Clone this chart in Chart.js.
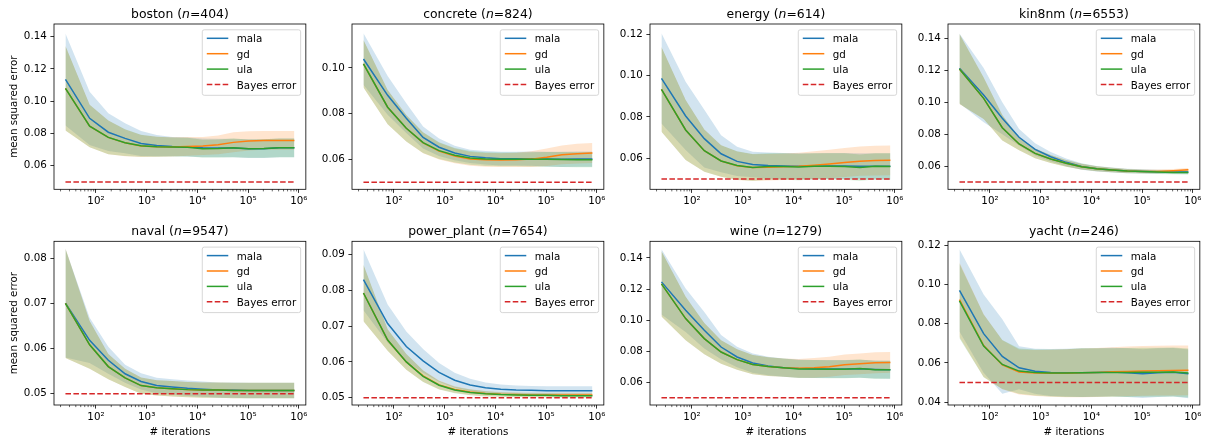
<!DOCTYPE html>
<html>
<head>
<meta charset="utf-8">
<script src="https://cdn.jsdelivr.net/npm/chart.js@4.4.1/dist/chart.umd.min.js"></script>
<style>
  body { margin: 0; background: #fff; }
  #fig { position: relative; width: 1208px; height: 444px; }
  #fig canvas { position: absolute; }
</style>
</head>
<body>
<div id="fig"></div>
<script>
// iterations at which the test error was logged
var iterations = [25, 75, 175, 375, 775, 1575, 3175, 6375, 12775, 25575, 51175, 102375, 204775, 409575, 819175];
var bayesError = 0.05;
var methods = ["mala", "gd", "ula"];
var xTickValues = [1e2, 1e3, 1e4, 1e5, 1e6];
var xTickLabels = ["10²", "10³", "10⁴", "10⁵", "10⁶"];

var datasetNames = ["boston", "concrete", "energy", "kin8nm", "naval", "power_plant", "wine", "yacht"];
var datasetSizes = [404, 824, 614, 6553, 9547, 7654, 1279, 246];

// boston
var bostonMala = [0.1135, 0.0894, 0.0808, 0.0770, 0.0738, 0.0725, 0.0719, 0.0716, 0.0711, 0.0710, 0.0710, 0.0706, 0.0706, 0.0711, 0.0711];
var bostonMalaStd = [0.0285, 0.0165, 0.0117, 0.0093, 0.0077, 0.0066, 0.0060, 0.0059, 0.0058, 0.0058, 0.0058, 0.0058, 0.0058, 0.0058, 0.0058];
var bostonGd = [0.1080, 0.0846, 0.0776, 0.0742, 0.0723, 0.0718, 0.0717, 0.0720, 0.0722, 0.0730, 0.0745, 0.0754, 0.0757, 0.0757, 0.0757];
var bostonGdStd = [0.0262, 0.0132, 0.0104, 0.0083, 0.0068, 0.0062, 0.0059, 0.0058, 0.0056, 0.0058, 0.0062, 0.0060, 0.0058, 0.0058, 0.0058];
var bostonUla = [0.1080, 0.0846, 0.0776, 0.0743, 0.0724, 0.0718, 0.0716, 0.0715, 0.0706, 0.0707, 0.0711, 0.0706, 0.0707, 0.0711, 0.0711];
var bostonUlaStd = [0.0262, 0.0132, 0.0104, 0.0083, 0.0068, 0.0062, 0.0059, 0.0058, 0.0055, 0.0056, 0.0058, 0.0057, 0.0057, 0.0058, 0.0058];
var bostonTicks = [0.06, 0.08, 0.10, 0.12, 0.14];
var bostonRange = [0.0454, 0.1479];

// concrete
var concreteMala = [0.1039, 0.0880, 0.0780, 0.0696, 0.0653, 0.0628, 0.0613, 0.0607, 0.0603, 0.0603, 0.0603, 0.0601, 0.0600, 0.0601, 0.0601];
var concreteMalaStd = [0.0113, 0.0085, 0.0065, 0.0048, 0.0038, 0.0032, 0.0029, 0.0029, 0.0030, 0.0030, 0.0031, 0.0032, 0.0033, 0.0033, 0.0033];
var concreteGd = [0.1018, 0.0828, 0.0736, 0.0672, 0.0636, 0.0615, 0.0602, 0.0598, 0.0597, 0.0598, 0.0601, 0.0609, 0.0620, 0.0625, 0.0628];
var concreteGdStd = [0.0104, 0.0075, 0.0058, 0.0045, 0.0037, 0.0032, 0.0030, 0.0030, 0.0030, 0.0031, 0.0034, 0.0038, 0.0041, 0.0043, 0.0044];
var concreteUla = [0.1018, 0.0828, 0.0736, 0.0673, 0.0638, 0.0618, 0.0606, 0.0601, 0.0600, 0.0600, 0.0600, 0.0600, 0.0599, 0.0598, 0.0598];
var concreteUlaStd = [0.0104, 0.0075, 0.0058, 0.0045, 0.0037, 0.0032, 0.0030, 0.0030, 0.0030, 0.0030, 0.0031, 0.0032, 0.0033, 0.0033, 0.0033];
var concreteTicks = [0.06, 0.08, 0.10];
var concreteRange = [0.0469, 0.1192];

// energy
var energyMala = [0.0987, 0.0805, 0.0695, 0.0622, 0.0585, 0.0570, 0.0565, 0.0563, 0.0562, 0.0562, 0.0563, 0.0563, 0.0562, 0.0561, 0.0561];
var energyMalaStd = [0.0218, 0.0165, 0.0140, 0.0090, 0.0071, 0.0062, 0.0063, 0.0063, 0.0063, 0.0063, 0.0063, 0.0063, 0.0063, 0.0063, 0.0063];
var energyGd = [0.0934, 0.0737, 0.0637, 0.0587, 0.0564, 0.0555, 0.0557, 0.0559, 0.0562, 0.0567, 0.0573, 0.0580, 0.0586, 0.0589, 0.0590];
var energyGdStd = [0.0205, 0.0145, 0.0102, 0.0076, 0.0069, 0.0065, 0.0064, 0.0064, 0.0065, 0.0067, 0.0069, 0.0070, 0.0071, 0.0072, 0.0072];
var energyUla = [0.0934, 0.0737, 0.0637, 0.0587, 0.0565, 0.0556, 0.0560, 0.0560, 0.0558, 0.0561, 0.0561, 0.0560, 0.0555, 0.0561, 0.0560];
var energyUlaStd = [0.0205, 0.0145, 0.0102, 0.0076, 0.0069, 0.0065, 0.0064, 0.0064, 0.0064, 0.0064, 0.0064, 0.0064, 0.0064, 0.0064, 0.0064];
var energyTicks = [0.06, 0.08, 0.10, 0.12];
var energyRange = [0.0450, 0.1250];

// kin8nm
var kin8nmMala = [0.1212, 0.1045, 0.0899, 0.0780, 0.0704, 0.0658, 0.0623, 0.0597, 0.0583, 0.0575, 0.0569, 0.0566, 0.0564, 0.0563, 0.0562];
var kin8nmMalaStd = [0.0219, 0.0170, 0.0100, 0.0052, 0.0038, 0.0030, 0.0024, 0.0020, 0.0017, 0.0015, 0.0014, 0.0013, 0.0012, 0.0012, 0.0012];
var kin8nmGd = [0.1208, 0.1024, 0.0840, 0.0738, 0.0679, 0.0644, 0.0617, 0.0596, 0.0583, 0.0575, 0.0569, 0.0566, 0.0566, 0.0570, 0.0576];
var kin8nmGdStd = [0.0220, 0.0130, 0.0080, 0.0040, 0.0030, 0.0025, 0.0021, 0.0018, 0.0016, 0.0014, 0.0013, 0.0012, 0.0012, 0.0012, 0.0012];
var kin8nmUla = [0.1208, 0.1024, 0.0840, 0.0738, 0.0679, 0.0644, 0.0617, 0.0596, 0.0583, 0.0575, 0.0568, 0.0565, 0.0562, 0.0560, 0.0559];
var kin8nmUlaStd = [0.0220, 0.0130, 0.0080, 0.0040, 0.0030, 0.0025, 0.0021, 0.0018, 0.0016, 0.0014, 0.0013, 0.0012, 0.0012, 0.0012, 0.0012];
var kin8nmTicks = [0.06, 0.08, 0.10, 0.12, 0.14];
var kin8nmRange = [0.0454, 0.1490];

// naval
var navalMala = [0.0700, 0.0618, 0.0574, 0.0544, 0.0527, 0.0518, 0.0515, 0.0512, 0.0510, 0.0508, 0.0508, 0.0507, 0.0507, 0.0507, 0.0507];
var navalMalaStd = [0.0120, 0.0050, 0.0030, 0.0020, 0.0018, 0.0017, 0.0017, 0.0017, 0.0017, 0.0017, 0.0017, 0.0017, 0.0017, 0.0017, 0.0017];
var navalGd = [0.0700, 0.0608, 0.0560, 0.0535, 0.0518, 0.0513, 0.0511, 0.0509, 0.0508, 0.0508, 0.0507, 0.0507, 0.0507, 0.0507, 0.0507];
var navalGdStd = [0.0121, 0.0053, 0.0028, 0.0020, 0.0018, 0.0017, 0.0017, 0.0017, 0.0017, 0.0017, 0.0017, 0.0017, 0.0017, 0.0017, 0.0017];
var navalUla = [0.0700, 0.0608, 0.0560, 0.0535, 0.0518, 0.0513, 0.0511, 0.0509, 0.0508, 0.0508, 0.0507, 0.0507, 0.0507, 0.0507, 0.0507];
var navalUlaStd = [0.0121, 0.0053, 0.0028, 0.0020, 0.0018, 0.0017, 0.0017, 0.0017, 0.0017, 0.0017, 0.0017, 0.0017, 0.0017, 0.0017, 0.0017];
var navalTicks = [0.05, 0.06, 0.07, 0.08];
var navalRange = [0.0475, 0.0837];

// power_plant
var powerMala = [0.0829, 0.0707, 0.0643, 0.0603, 0.0571, 0.0549, 0.0536, 0.0528, 0.0524, 0.0522, 0.0521, 0.0520, 0.0520, 0.0520, 0.0520];
var powerMalaStd = [0.0085, 0.0053, 0.0042, 0.0033, 0.0026, 0.0021, 0.0017, 0.0015, 0.0013, 0.0012, 0.0012, 0.0012, 0.0012, 0.0012, 0.0012];
var powerGd = [0.0792, 0.0661, 0.0600, 0.0561, 0.0536, 0.0523, 0.0516, 0.0512, 0.0510, 0.0509, 0.0508, 0.0508, 0.0508, 0.0508, 0.0508];
var powerGdStd = [0.0079, 0.0030, 0.0022, 0.0016, 0.0012, 0.0009, 0.0008, 0.0007, 0.0006, 0.0006, 0.0006, 0.0006, 0.0006, 0.0006, 0.0006];
var powerUla = [0.0792, 0.0661, 0.0600, 0.0560, 0.0535, 0.0522, 0.0515, 0.0511, 0.0509, 0.0508, 0.0507, 0.0507, 0.0506, 0.0506, 0.0506];
var powerUlaStd = [0.0079, 0.0030, 0.0022, 0.0016, 0.0012, 0.0009, 0.0008, 0.0007, 0.0006, 0.0006, 0.0006, 0.0006, 0.0006, 0.0006, 0.0006];
var powerTicks = [0.05, 0.06, 0.07, 0.08, 0.09];
var powerRange = [0.0480, 0.0936];

// wine
var wineMala = [0.1246, 0.1063, 0.0935, 0.0827, 0.0763, 0.0724, 0.0705, 0.0694, 0.0688, 0.0685, 0.0685, 0.0685, 0.0687, 0.0683, 0.0681];
var wineMalaStd = [0.0210, 0.0140, 0.0118, 0.0078, 0.0066, 0.0062, 0.0060, 0.0059, 0.0058, 0.0058, 0.0058, 0.0058, 0.0058, 0.0058, 0.0058];
var wineGd = [0.1233, 0.1010, 0.0881, 0.0795, 0.0746, 0.0714, 0.0701, 0.0694, 0.0690, 0.0693, 0.0700, 0.0713, 0.0719, 0.0726, 0.0728];
var wineGdStd = [0.0210, 0.0140, 0.0100, 0.0076, 0.0066, 0.0062, 0.0060, 0.0059, 0.0060, 0.0063, 0.0065, 0.0066, 0.0067, 0.0067, 0.0067];
var wineUla = [0.1233, 0.1010, 0.0881, 0.0795, 0.0746, 0.0714, 0.0701, 0.0694, 0.0686, 0.0685, 0.0684, 0.0684, 0.0688, 0.0681, 0.0681];
var wineUlaStd = [0.0210, 0.0140, 0.0100, 0.0076, 0.0066, 0.0062, 0.0060, 0.0059, 0.0058, 0.0058, 0.0058, 0.0058, 0.0058, 0.0058, 0.0058];
var wineTicks = [0.06, 0.08, 0.10, 0.12, 0.14];
var wineRange = [0.0454, 0.1507];

// yacht
var yachtMala = [0.0970, 0.0749, 0.0633, 0.0575, 0.0557, 0.0551, 0.0550, 0.0550, 0.0551, 0.0553, 0.0550, 0.0545, 0.0550, 0.0552, 0.0544];
var yachtMalaStd = [0.0210, 0.0200, 0.0190, 0.0110, 0.0115, 0.0120, 0.0122, 0.0124, 0.0124, 0.0124, 0.0124, 0.0124, 0.0124, 0.0124, 0.0124];
var yachtGd = [0.0922, 0.0688, 0.0590, 0.0553, 0.0548, 0.0547, 0.0547, 0.0549, 0.0551, 0.0554, 0.0556, 0.0559, 0.0560, 0.0561, 0.0562];
var yachtGdStd = [0.0190, 0.0160, 0.0125, 0.0115, 0.0117, 0.0120, 0.0122, 0.0124, 0.0125, 0.0126, 0.0127, 0.0127, 0.0127, 0.0127, 0.0127];
var yachtUla = [0.0916, 0.0686, 0.0592, 0.0558, 0.0551, 0.0548, 0.0548, 0.0550, 0.0551, 0.0551, 0.0551, 0.0552, 0.0552, 0.0553, 0.0548];
var yachtUlaStd = [0.0190, 0.0160, 0.0125, 0.0115, 0.0117, 0.0120, 0.0122, 0.0124, 0.0124, 0.0124, 0.0125, 0.0125, 0.0125, 0.0125, 0.0125];
var yachtTicks = [0.04, 0.06, 0.08, 0.10, 0.12];
var yachtRange = [0.0385, 0.1220];

var panels = [
   { mean: [bostonMala, bostonGd, bostonUla], std: [bostonMalaStd, bostonGdStd, bostonUlaStd], ticks: bostonTicks, range: bostonRange },
   { mean: [concreteMala, concreteGd, concreteUla], std: [concreteMalaStd, concreteGdStd, concreteUlaStd], ticks: concreteTicks, range: concreteRange },
   { mean: [energyMala, energyGd, energyUla], std: [energyMalaStd, energyGdStd, energyUlaStd], ticks: energyTicks, range: energyRange },
   { mean: [kin8nmMala, kin8nmGd, kin8nmUla], std: [kin8nmMalaStd, kin8nmGdStd, kin8nmUlaStd], ticks: kin8nmTicks, range: kin8nmRange },
   { mean: [navalMala, navalGd, navalUla], std: [navalMalaStd, navalGdStd, navalUlaStd], ticks: navalTicks, range: navalRange },
   { mean: [powerMala, powerGd, powerUla], std: [powerMalaStd, powerGdStd, powerUlaStd], ticks: powerTicks, range: powerRange },
   { mean: [wineMala, wineGd, wineUla], std: [wineMalaStd, wineGdStd, wineUlaStd], ticks: wineTicks, range: wineRange },
   { mean: [yachtMala, yachtGd, yachtUla], std: [yachtMalaStd, yachtGdStd, yachtUlaStd], ticks: yachtTicks, range: yachtRange },
];

var lineColors = ["#1f77b4", "#ff7f0e", "#2ca02c"];
var bandColors = ["rgba(31,119,180,0.2)", "rgba(255,127,14,0.2)", "rgba(44,160,44,0.2)"];
var bayesColor = "#d62728";
var dash = [5.55, 2.4];
var FONT = "'DejaVu Sans', sans-serif";

Chart.defaults.font.family = FONT;
Chart.defaults.font.size = 10.3;
Chart.defaults.color = "#000";

function toPoints(ys) {
   return iterations.map(function (x, i) {
      return { x: x, y: ys[i] };
   });
}

// frame, minor ticks, title with italic n, and the matplotlib-like legend
var panelDecor = {
   id: "panelDecor",
   afterDraw: function (chart, args, opts) {
      var ctx = chart.ctx;
      var a = chart.chartArea;
      var xs = chart.scales.x;
      ctx.save();

      // minor ticks on the log axis
      ctx.strokeStyle = "#000";
      ctx.lineWidth = 0.6;
      for (var e = 1; e <= 6; e++) {
         for (var k = 2; k <= 9; k++) {
            var v = k * Math.pow(10, e);
            if (v < xs.min || v > xs.max) continue;
            var px = xs.getPixelForValue(v);
            ctx.beginPath();
            ctx.moveTo(px, a.bottom);
            ctx.lineTo(px, a.bottom + 2.1);
            ctx.stroke();
         }
      }

      // axes frame
      ctx.lineWidth = 0.8;
      ctx.strokeRect(a.left, a.top, a.right - a.left, a.bottom - a.top);

      // title: name (n=size), n in italics
      var parts = [
         [opts.name + " (", "normal"],
         ["n", "italic"],
         ["=" + opts.n + ")", "normal"],
      ];
      ctx.fillStyle = "#000";
      ctx.textBaseline = "alphabetic";
      ctx.textAlign = "left";
      var total = 0;
      parts.forEach(function (p) {
         ctx.font = p[1] + " 12.4px " + FONT;
         p.push(ctx.measureText(p[0]).width);
         total += p[2];
      });
      var tx = (a.left + a.right) / 2 - total / 2;
      parts.forEach(function (p) {
         ctx.font = p[1] + " 12.4px " + FONT;
         ctx.fillText(p[0], tx, a.top - 6.2);
         tx += p[2];
      });

      // legend, upper right
      var items = chart.data.datasets.filter(function (d) {
         return d.inLegend;
      });
      ctx.font = "10.3px " + FONT;
      var maxW = 0;
      items.forEach(function (d) {
         maxW = Math.max(maxW, ctx.measureText(d.label).width);
      });
      var w = 34.5 + maxW + 4.5;
      var h = 65.5;
      var bx = a.right - 5.2 - w;
      var by = a.top + 5.8;
      ctx.beginPath();
      ctx.roundRect(bx, by, w, h, 2);
      ctx.fillStyle = "rgba(255,255,255,0.8)";
      ctx.fill();
      ctx.strokeStyle = "rgba(204,204,204,0.8)";
      ctx.lineWidth = 1;
      ctx.stroke();
      items.forEach(function (d, i) {
         var y = by + 8.5 + i * 15.4;
         ctx.beginPath();
         ctx.strokeStyle = d.borderColor;
         ctx.lineWidth = 1.5;
         ctx.setLineDash(d.borderDash || []);
         ctx.moveTo(bx + 4.5, y);
         ctx.lineTo(bx + 26, y);
         ctx.stroke();
         ctx.setLineDash([]);
         ctx.fillStyle = "#000";
         ctx.fillText(d.label, bx + 34.5, y + 4);
      });

      ctx.restore();
   },
};

var fig = document.getElementById("fig");

panels.forEach(function (p, idx) {
   var col = idx % 4;
   var row = Math.floor(idx / 4);
   var canvas = document.createElement("canvas");
   canvas.width = 310;
   canvas.height = 222;
   canvas.style.left = 298 * col + "px";
   canvas.style.top = 222 * row + "px";
   fig.appendChild(canvas);

   var datasets = [];
   // bands: lower bound then upper bound filled down to it
   for (var m = 0; m < 3; m++) {
      var mean = p.mean[m];
      var sd = p.std[m];
      var lo = mean.map(function (v, i) { return v - sd[i]; });
      var hi = mean.map(function (v, i) { return v + sd[i]; });
      datasets.push({
         data: toPoints(lo),
         borderWidth: 0,
         pointRadius: 0,
         fill: false,
         order: 9 - m,
      });
      datasets.push({
         data: toPoints(hi),
         borderWidth: 0,
         pointRadius: 0,
         backgroundColor: bandColors[m],
         fill: datasets.length - 1,
         order: 9 - m,
      });
   }
   for (var m2 = 0; m2 < 3; m2++) {
      datasets.push({
         label: methods[m2],
         inLegend: true,
         data: toPoints(p.mean[m2]),
         borderColor: lineColors[m2],
         borderWidth: 1.5,
         pointRadius: 0,
         fill: false,
         order: 3 - m2,
      });
   }
   datasets.push({
      label: "Bayes error",
      inLegend: true,
      data: iterations.map(function (x) { return { x: x, y: bayesError }; }),
      borderColor: bayesColor,
      borderWidth: 1.5,
      borderDash: dash,
      pointRadius: 0,
      fill: false,
      order: 0,
   });

   new Chart(canvas.getContext("2d"), {
      type: "line",
      data: { datasets: datasets },
      plugins: [panelDecor],
      options: {
         responsive: false,
         animation: false,
         devicePixelRatio: 1,
         layout: { padding: { top: row ? 19.3 : 24, right: 3, left: 0, bottom: 0 } },
         plugins: {
            legend: { display: false },
            tooltip: { enabled: false },
            panelDecor: { name: datasetNames[idx], n: datasetSizes[idx] },
         },
         scales: {
            x: {
               type: "logarithmic",
               min: Math.pow(10, 1.172),
               max: Math.pow(10, 6.139),
               border: { display: false },
               grid: { drawOnChartArea: false, tickLength: 3.6, tickWidth: 0.8, tickColor: "#000" },
               ticks: {
                  autoSkip: false,
                  maxRotation: 0,
                  padding: 2.5,
                  callback: function (v) {
                     return xTickLabels[xTickValues.indexOf(v)];
                  },
               },
               afterBuildTicks: function (scale) {
                  scale.ticks = xTickValues.map(function (v) { return { value: v }; });
               },
               afterFit: function (scale) {
                  scale.height = row ? 39 : 32.7;
               },
               title: {
                  display: row === 1,
                  text: "# iterations",
                  padding: { top: 0, bottom: 5.1 },
               },
            },
            y: {
               type: "linear",
               min: p.range[0],
               max: p.range[1],
               border: { display: false },
               grid: { drawOnChartArea: false, tickLength: 3.6, tickWidth: 0.8, tickColor: "#000" },
               ticks: {
                  padding: 3.6,
                  callback: function (v) {
                     return v.toFixed(2);
                  },
               },
               afterBuildTicks: function (scale) {
                  scale.ticks = p.ticks.map(function (v) { return { value: v }; });
               },
               afterFit: function (scale) {
                  scale.width = 54;
               },
               title: {
                  display: col === 0,
                  text: "mean squared error",
                  padding: { top: 7.8, bottom: 0 },
               },
            },
         },
      },
   });
});
</script>
</body>
</html>
